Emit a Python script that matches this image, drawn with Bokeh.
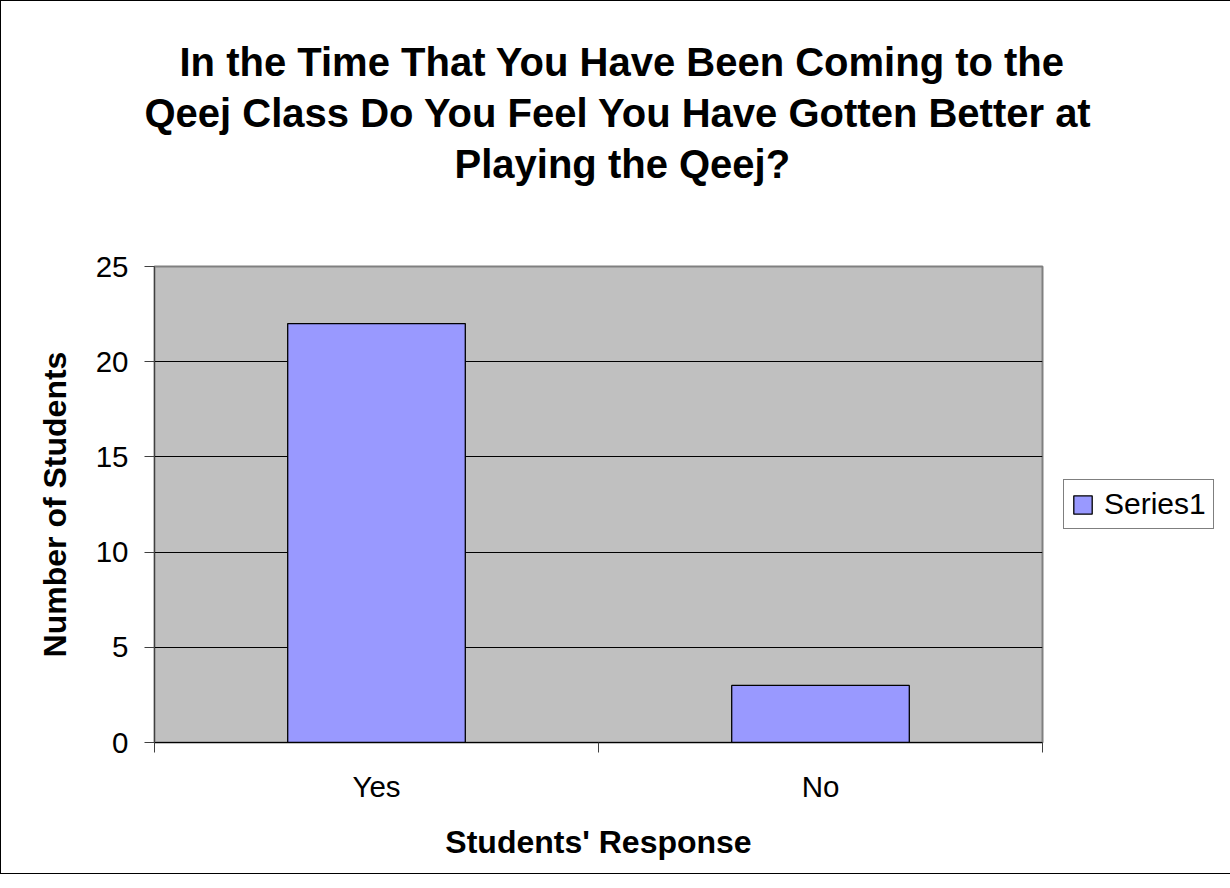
from bokeh.plotting import figure
from bokeh.layouts import column
from bokeh.models import (FactorRange, Range1d, LinearAxis, FixedTicker, Legend,
                          LegendItem, Title)
from bokeh.embed import file_html
from bokeh.resources import INLINE

# ---- data ----
title_lines = ["In the Time That You Have Been Coming to the",
               "Qeej Class Do You Feel You Have Gotten Better at",
               "Playing the Qeej?"]
categories = ["Yes", "No"]
values = [22, 3]
y_ticks = [0, 5, 10, 15, 20, 25]
series_name = "Series1"
x_title = "Students' Response"
y_title = "Number of Students"

FONT = "Liberation Sans"

p = figure(frame_width=888, frame_height=476, title=None,
           x_range=FactorRange(*categories), y_range=Range1d(0, 25),
           x_axis_type=None, output_backend="svg", toolbar_location=None,
           min_border_left=153, min_border_right=173,
           min_border_top=265, min_border_bottom=131)

p.background_fill_color = "#C0C0C0"
p.border_fill_color = "#FFFFFF"
p.outline_line_color = "#808080"
p.outline_line_width = 2

bars = p.vbar(x=categories, top=values, width=0.4, bottom=0,
              fill_color="#9999FF", line_color="#000000", line_width=1.3)

# y axis
yt = FixedTicker(ticks=y_ticks)
ya = p.yaxis[0]
ya.ticker = yt
ya.axis_line_color = "#404040"
ya.axis_line_width = 1
ya.major_tick_line_color = "#404040"
ya.major_tick_in = 0
ya.major_tick_out = 10
ya.minor_tick_line_color = None
ya.major_label_standoff = 16
ya.major_label_text_font = FONT
ya.major_label_text_font_size = "29.5px"
ya.major_label_text_color = "#000000"
ya.axis_label = y_title
ya.axis_label_text_font = FONT
ya.axis_label_text_font_style = "bold"
ya.axis_label_text_font_size = "32px"
ya.axis_label_text_color = "#000000"
ya.axis_label_standoff = 20

p.ygrid.ticker = yt
p.ygrid.grid_line_color = "#000000"
p.ygrid.grid_line_width = 1
p.xgrid.visible = False

# x axis: labels at category centres, tick marks at category boundaries
xa = LinearAxis(
    ticker=FixedTicker(ticks=[i + 0.5 for i in range(len(categories))],
                       minor_ticks=list(range(len(categories) + 1))),
    major_label_overrides={i + 0.5: c for i, c in enumerate(categories)})
xa.axis_line_color = "#000000"
xa.axis_line_width = 1
xa.major_tick_line_color = None
xa.major_tick_in = 0
xa.major_tick_out = 0
xa.minor_tick_line_color = "#404040"
xa.minor_tick_in = 0
xa.minor_tick_out = 10
xa.major_label_standoff = 17
xa.major_label_text_font = FONT
xa.major_label_text_font_size = "29.5px"
xa.major_label_text_color = "#000000"
xa.axis_label = x_title
xa.axis_label_text_font = FONT
xa.axis_label_text_font_style = "bold"
xa.axis_label_text_font_size = "32px"
xa.axis_label_text_color = "#000000"
xa.axis_label_standoff = 18
p.add_layout(xa, "below")

# legend
legend = Legend(items=[LegendItem(label=series_name, renderers=[bars])],
                location="left", margin=21, padding=7,
                glyph_width=23, glyph_height=23, label_standoff=10,
                label_width=102,
                label_text_font=FONT, label_text_font_size="30px",
                label_text_color="#000000",
                border_line_color="#000000", border_line_width=1,
                background_fill_color="#FFFFFF", background_fill_alpha=1)
p.add_layout(legend, "right")

# gap between the title block and the plot area (blank, tiny title)
p.add_layout(Title(text=" ", text_font_size="1px", standoff=75), "above")

# title: three lines stacked above the frame (first added = closest to frame)
title_offsets = [25, -10, 300]
for line, off in reversed(list(zip(title_lines, title_offsets))):
    p.add_layout(Title(text=line, align="left", offset=off, standoff=5,
                       vertical_align="bottom",
                       text_font=FONT, text_font_style="bold",
                       text_font_size="40px", text_color="#000000"), "above")

# thin black frame round the whole chart
page = column(p, styles={"border": "1px solid #000000"})

open("out.html", "w").write(file_html(page, INLINE))
